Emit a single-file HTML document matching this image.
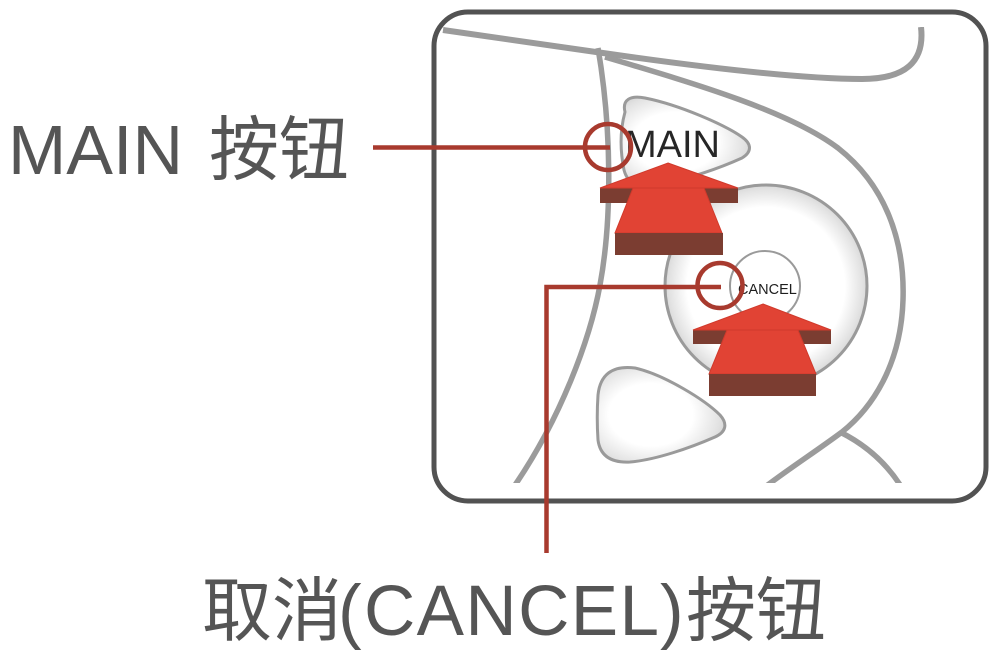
<!DOCTYPE html>
<html>
<head>
<meta charset="utf-8">
<style>
  html, body { margin: 0; padding: 0; background: #ffffff; }
  svg { display: block; }
  .lbl { font-family: "Liberation Sans", "Noto Sans CJK SC", sans-serif; fill: #555555; }
</style>
</head>
<body>
<svg width="1000" height="651" viewBox="0 0 1000 651" xmlns="http://www.w3.org/2000/svg">
  <defs>
    <clipPath id="inner">
      <rect x="437" y="27" width="546" height="456"/>
    </clipPath>
    <radialGradient id="gCircle" cx="0.5" cy="0.5" r="0.5" gradientUnits="objectBoundingBox">
      <stop offset="0" stop-color="#ffffff"/>
      <stop offset="0.78" stop-color="#ffffff"/>
      <stop offset="0.95" stop-color="#e3e3e3"/>
      <stop offset="1" stop-color="#d9d9d9"/>
    </radialGradient>
    <radialGradient id="gBub" cx="0.42" cy="0.5" r="0.6" gradientUnits="objectBoundingBox">
      <stop offset="0" stop-color="#ffffff"/>
      <stop offset="0.55" stop-color="#ffffff"/>
      <stop offset="0.9" stop-color="#e2e2e2"/>
      <stop offset="1" stop-color="#d6d6d6"/>
    </radialGradient>
  </defs>

  <!-- outer rounded frame -->
  <rect x="434" y="12" width="552" height="489" rx="34" ry="34" fill="#ffffff" stroke="#525252" stroke-width="5"/>

  <!-- gray road lines -->
  <g clip-path="url(#inner)" fill="none" stroke="#9b9b9b" stroke-linecap="butt">
    <path d="M443,30 L603,53 C700,67 800,79 862,79 C905,79 925,62 921,27" stroke-width="6"/>
    <path d="M605,57 C700,85 790,112 838,148 C885,185 905,240 903,300 C901,365 872,408 842,432 C815,452 790,468 765,487" stroke-width="5.5"/>
    <path d="M840,432 Q880,452 902,488" stroke-width="5.5"/>
    <path d="M598,48 C612,130 612,220 600,285 C590,340 560,420 513,488" stroke-width="5.5"/>
  </g>

  <!-- MAIN bubble -->
  <path d="M625,112 C622,100 630,95 645,98 C680,105 725,125 742,137 C752,144 752,152 742,158 C720,168 690,178 660,185 C640,190 628,185 624,170 C620,150 620,130 625,112 Z"
        fill="url(#gBub)" stroke="#9a9a9a" stroke-width="3"/>

  <!-- lower bubble -->
  <path d="M598,395 C600,375 612,365 635,368 C665,375 705,400 720,415 C728,424 726,432 715,437 C690,448 655,460 630,462 C610,463 600,455 598,440 C597,425 597,410 598,395 Z"
        fill="url(#gBub)" stroke="#9a9a9a" stroke-width="3"/>

  <!-- CANCEL big ring -->
  <circle cx="766" cy="286" r="101" fill="url(#gCircle)" stroke="#9a9a9a" stroke-width="3"/>
  <circle cx="765" cy="286" r="35" fill="#ffffff" stroke="#9a9a9a" stroke-width="2"/>

  <!-- inner labels -->
  <text x="625" y="157" font-family="Liberation Sans, sans-serif" font-size="38" fill="#262626">MAIN</text>
  <text x="738" y="294" font-family="Liberation Sans, sans-serif" font-size="14.5" fill="#1e1e1e">CANCEL</text>

  <!-- arrow 1 -->
  <rect x="600" y="188" width="138" height="15" fill="#7b3d31"/>
  <polygon points="668,163 738,188 600,188" fill="#e14334" stroke="#d03a2c" stroke-width="1"/>
  <polygon points="633,188 704,188 722,233 615,233" fill="#e14334" stroke="#d03a2c" stroke-width="1"/>
  <rect x="615" y="233" width="108" height="22" fill="#7b3d31"/>

  <!-- arrow 2 -->
  <rect x="693" y="330" width="138" height="14" fill="#7b3d31"/>
  <polygon points="763,304 831,330 693,330" fill="#e14334" stroke="#d03a2c" stroke-width="1"/>
  <polygon points="727,330 798,330 816,374 709,374" fill="#e14334" stroke="#d03a2c" stroke-width="1"/>
  <rect x="709" y="374" width="107" height="22" fill="#7b3d31"/>

  <!-- red callouts -->
  <g fill="none" stroke="#a83a2e" stroke-width="4.5">
    <line x1="373" y1="147.5" x2="610" y2="147.5"/>
    <circle cx="608" cy="147" r="23"/>
    <polyline points="721,287 546.5,287 546.5,553"/>
    <circle cx="720" cy="285.5" r="22.5"/>
  </g>

  <!-- outer labels -->
  <text class="lbl" x="8" y="174" font-size="70">MAIN</text>
  <text class="lbl" x="209" y="174" font-size="70">按钮</text>

  <text class="lbl" x="202" y="635" font-size="70">取消</text>
  <text class="lbl" x="338" y="635" font-size="71">(</text>
  <text class="lbl" x="364" y="635" font-size="71" letter-spacing="1.4">CANCEL</text>
  <text class="lbl" x="660" y="635" font-size="71">)</text>
  <text class="lbl" x="686" y="635" font-size="70">按钮</text>
</svg>
</body>
</html>
